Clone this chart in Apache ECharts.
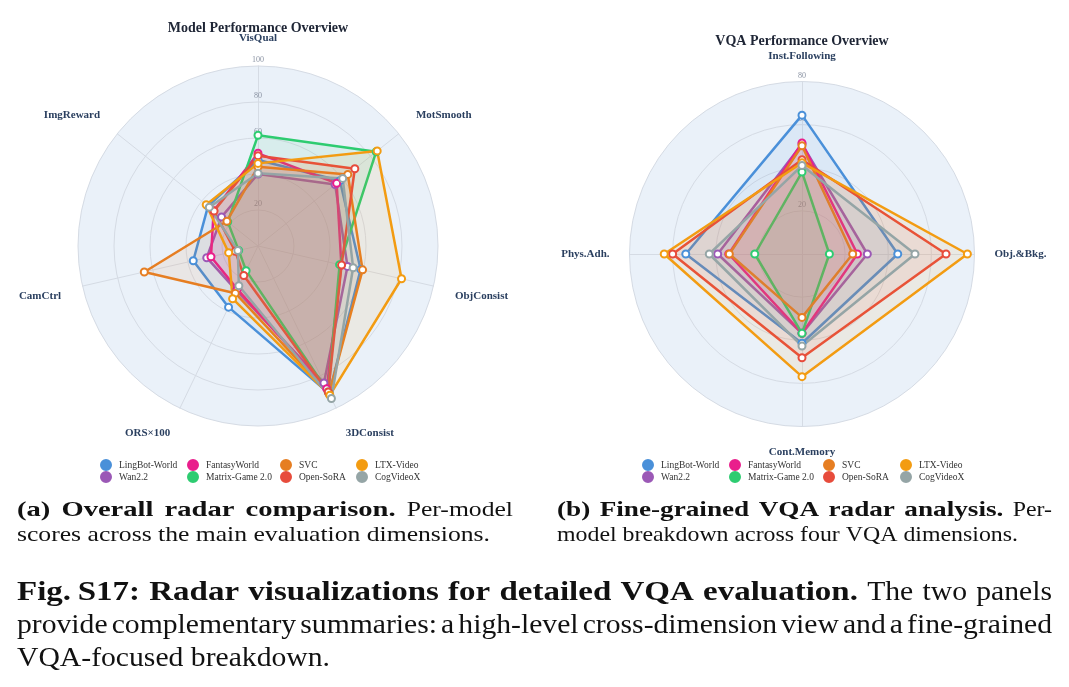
<!DOCTYPE html>
<html>
<head>
<meta charset="utf-8">
<script src="https://cdn.jsdelivr.net/npm/echarts@6/dist/echarts.min.js"></script>
<style>
  html, body { margin: 0; padding: 0; background: #fff; }
  #chart { width: 1069px; height: 687px; }
</style>
</head>
<body>
<div id="chart"></div>
<script>
// models, in legend order (column by column)
const models = ['LingBot-World', 'Wan2.2', 'FantasyWorld', 'Matrix-Game 2.0', 'SVC', 'Open-SoRA', 'LTX-Video', 'CogVideoX']
const palette = ['#4a90d9', '#9b59b6', '#e91e8c', '#2ecc71', '#e67e22', '#e74c3c', '#f39c12', '#95a5a6']

// (a) overall radar, axes clockwise from the top
const overallAxes = ['VisQual', 'MotSmooth', 'ObjConsist', '3DConsist', 'ORS×100', 'CamCtrl', 'ImgReward']
const overallMax = 100
const overallStep = 20
const overallLingBot = [47.8, 58.2, 58.5, 91, 37.7, 36.9, 35.5]
const overallWan = [40, 54.8, 51, 84.4, 27.5, 29.2, 25.9]
const overallFantasy = [51.5, 55.9, 47.5, 88, 26.6, 26.8, 31.5]
const overallMatrix = [61.5, 84, 46.5, 90, 15.2, 11, 21.5]
const overallSVC = [44, 63.8, 59.6, 91, 29.1, 64.8, 22.1]
const overallSoRA = [50.2, 68.8, 47.6, 90, 18.2, 13, 31.2]
const overallLTX = [45.9, 84.7, 81.8, 92, 32.5, 16.7, 36.8]
const overallCog = [40.4, 60.2, 54.2, 94, 24.5, 11.5, 34.6]

// (b) VQA radar
const vqaAxes = ['Inst.Following', 'Obj.&Bkg.', 'Cont.Memory', 'Phys.Adh.']
const vqaMax = 80
const vqaStep = 20
const vqaLingBot = [64.4, 44.4, 41.4, 53.9]
const vqaWan = [51, 30.3, 36.8, 39.1]
const vqaFantasy = [51.5, 25.7, 36.8, 34]
const vqaMatrix = [38, 12.7, 36.8, 21.9]
const vqaSVC = [50.2, 23.5, 29.4, 33.7]
const vqaSoRA = [43.7, 66.8, 48.1, 60]
const vqaLTX = [42.3, 76.7, 56.9, 63.9]
const vqaCog = [41, 52.4, 42.7, 43]

// captions: [bold part, regular part] per line
const captionA = [
  ['(a) Overall radar comparison.', 'Per-model'],
  ['', 'scores across the main evaluation dimensions.']
]
const captionB = [
  ['(b) Fine-grained VQA radar analysis.', 'Per-'],
  ['', 'model breakdown across four VQA dimensions.']
]
const captionFig = [
  ['Fig.\u2009S17: Radar visualizations for detailed VQA evaluation.', 'The two panels'],
  ['', 'provide complementary summaries: a high-level cross-dimension view and a fine-grained'],
  ['', 'VQA-focused breakdown.']
]

const overallData = [overallLingBot, overallWan, overallFantasy, overallMatrix, overallSVC, overallSoRA, overallLTX, overallCog]
const vqaData = [vqaLingBot, vqaWan, vqaFantasy, vqaMatrix, vqaSVC, vqaSoRA, vqaLTX, vqaCog]

const SERIF = 'Liberation Serif'

// axis names nudged up / down the way the original plot sets them
const nameUp = ['MotSmooth', 'ImgReward']
const nameDown = ['ObjConsist', 'CamCtrl', '3DConsist', 'ORS×100']

// echarts radar runs counter-clockwise, so flip everything after the first axis
const cw = (arr) => [arr[0], ...arr.slice(1).reverse()]

const makeRadar = (axes, max, step, center, radius, nameGap) => ({
  center: center,
  radius: radius,
  startAngle: 90,
  shape: 'circle',
  splitNumber: max / step,
  nameGap: nameGap,
  indicator: cw(axes).map((name, i) => ({
    name: name,
    min: 0,
    max: max,
    axisLabel: { show: i === 0 }
  })),
  axisName: {
    color: '#2a3f5f',
    fontFamily: SERIF,
    fontWeight: 'bold',
    fontSize: 11,
    formatter: (name) => {
      if (nameUp.includes(name)) return '{up|' + name + '}'
      if (nameDown.includes(name)) return '{down|' + name + '}'
      return name
    },
    rich: {
      up: { padding: [0, 0, 10, 0] },
      down: { padding: [10, 0, 0, 0] }
    }
  },
  axisLabel: {
    show: false,
    fontFamily: SERIF,
    fontSize: 8,
    color: '#8a93a3',
    margin: 0,
    align: 'center',
    verticalAlign: 'bottom',
    padding: [0, 0, 2, 0],
    showMinLabel: false
  },
  splitLine: { lineStyle: { color: '#d5dbe4', width: 1 } },
  splitArea: { show: true, areaStyle: { color: ['#eaf1f9'] } },
  axisLine: { lineStyle: { color: '#d5dbe4', width: 1 } }
})

const radarSeries = (radarIndex, name, values, color) => ({
  type: 'radar',
  radarIndex: radarIndex,
  name: name,
  symbol: 'circle',
  symbolSize: 7,
  lineStyle: { width: 2.5, color: color },
  itemStyle: { color: '#fff', borderColor: color, borderWidth: 2 },
  areaStyle: { color: color, opacity: 0.09 },
  emphasis: { disabled: true },
  data: [{ name: name, value: cw(values) }]
})

const series = []
models.forEach((m, i) => {
  series.push(radarSeries(0, m, overallData[i], palette[i]))
})
models.forEach((m, i) => {
  series.push(radarSeries(1, m, vqaData[i], palette[i]))
})

// 4 legend columns of 2 per panel
const legendColumns = [[0, 1], [2, 3], [4, 5], [6, 7]]
const makeLegends = (lefts) =>
  legendColumns.map((col, k) => ({
    orient: 'vertical',
    left: lefts[k],
    top: 459,
    padding: 0,
    itemWidth: 16,
    itemHeight: 10,
    itemGap: 0,
    icon: 'circle',
    textStyle: { fontFamily: SERIF, fontSize: 9.5, color: '#333' },
    data: col.map((i) => ({ name: models[i], itemStyle: { color: palette[i] } }))
  }))

// justified caption lines, word by word; the LaTeX faces are wider than
// Liberation Serif, so bold and regular words get their own horizontal scale
const measure = document.createElement('canvas').getContext('2d')
const widthOf = (s, bold, size) => {
  measure.font = (bold ? 'bold ' : '') + size + 'px ' + SERIF
  return measure.measureText(s).width
}

const captionBlock = (lines, x, y0, lineGap, width, size, lastWidth, boldWidth) => {
  const last = lines[lines.length - 1]
  const sx = lastWidth / widthOf(last[1], false, size)
  const sb = boldWidth / widthOf(lines[0][0], true, size)
  const els = []
  lines.forEach((line, li) => {
    const words = []
    line[0].split(' ').filter(Boolean).forEach((w) => words.push([w, true]))
    line[1].split(' ').filter(Boolean).forEach((w) => words.push([w, false]))
    const ws = words.map(([w, b]) => widthOf(w, b, size) * (b ? sb : sx))
    const total = ws.reduce((a, b) => a + b, 0)
    const justify = li < lines.length - 1
    const gap = justify ? (width - total) / (words.length - 1) : widthOf(' ', false, size) * sx
    let cx = x
    words.forEach(([w, b], i) => {
      els.push({
        type: 'text',
        x: cx,
        y: y0 + li * lineGap,
        scaleX: b ? sb : sx,
        silent: true,
        style: {
          text: w,
          fontFamily: SERIF,
          fontSize: size,
          fontWeight: b ? 'bold' : 'normal',
          fill: '#111',
          align: 'left',
          verticalAlign: 'middle'
        }
      })
      cx += ws[i] + gap
    })
  })
  return els
}

const titleText = (text, x, y) => ({
  type: 'text',
  x: x,
  y: y,
  silent: true,
  style: {
    text: text,
    fontFamily: SERIF,
    fontSize: 14,
    fontWeight: 'bold',
    fill: '#1e2535',
    align: 'center',
    verticalAlign: 'middle'
  }
})

const chart = echarts.init(document.getElementById('chart'))

chart.setOption({
  backgroundColor: '#fff',
  animation: false,
  radar: [
    makeRadar(overallAxes, overallMax, overallStep, [258, 246], 180, 22),
    makeRadar(vqaAxes, vqaMax, vqaStep, [802, 254], 172.5, 20)
  ],
  legend: [
    ...makeLegends([100, 187, 280, 356]),
    ...makeLegends([642, 729, 823, 900])
  ],
  graphic: [
    titleText('Model Performance Overview', 258, 28),
    titleText('VQA Performance Overview', 802, 41),
    ...captionBlock(captionA, 17, 510, 25, 496, 21.5, 473, 367),
    ...captionBlock(captionB, 557, 510, 25, 495, 21.5, 461, 436),
    ...captionBlock(captionFig, 17, 593, 33, 1035, 28, 313, 835)
  ],
  series: series
})
</script>
</body>
</html>
